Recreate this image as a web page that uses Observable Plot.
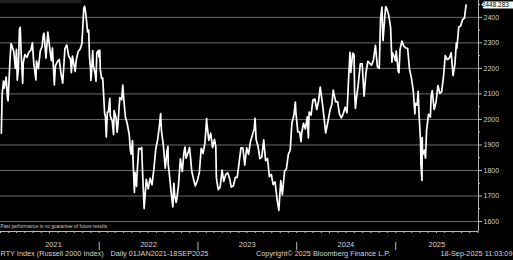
<!DOCTYPE html>
<html><head><meta charset="utf-8">
<script src="https://cdn.jsdelivr.net/npm/d3@7"></script>
<script src="https://cdn.jsdelivr.net/npm/@observablehq/plot@0.6"></script>
<style>
html,body{margin:0;padding:0;background:#000;}
#chart{position:relative;width:513px;height:260px;overflow:hidden;background:#000;}
#topbar{position:absolute;left:0;top:0;width:82px;height:3px;background:#1e1e1e;}
</style></head><body><div id="chart"><div id="topbar"></div></div>
<script>
const dates = [
"2021-01-04","2021-01-07","2021-01-12","2021-01-15","2021-01-22","2021-01-27","2021-01-29","2021-02-05","2021-02-09","2021-02-12","2021-02-19","2021-02-25","2021-03-01","2021-03-04","2021-03-08","2021-03-12","2021-03-15","2021-03-18","2021-03-24","2021-03-26","2021-04-01","2021-04-09","2021-04-16","2021-04-23","2021-04-29","2021-05-04","2021-05-12","2021-05-14","2021-05-21","2021-05-28","2021-06-04","2021-06-08","2021-06-11","2021-06-18","2021-06-25","2021-07-02","2021-07-08","2021-07-12","2021-07-19","2021-07-23","2021-07-30","2021-08-06","2021-08-13","2021-08-19","2021-08-27","2021-09-03","2021-09-10","2021-09-17","2021-09-20","2021-09-24","2021-10-04","2021-10-08","2021-10-15","2021-10-22","2021-10-29","2021-11-05","2021-11-08","2021-11-12","2021-11-19","2021-11-23","2021-11-26","2021-11-30","2021-12-01","2021-12-03","2021-12-08","2021-12-10","2021-12-17","2021-12-20","2021-12-23","2021-12-29","2021-12-31",
"2022-01-03","2022-01-05","2022-01-07","2022-01-10","2022-01-14","2022-01-18","2022-01-21","2022-01-24","2022-01-27","2022-01-31","2022-02-04","2022-02-09","2022-02-11","2022-02-18","2022-02-23","2022-02-25","2022-03-04","2022-03-08","2022-03-11","2022-03-18","2022-03-25","2022-03-29","2022-04-01","2022-04-05","2022-04-08","2022-04-14","2022-04-22","2022-04-26","2022-04-29","2022-05-04","2022-05-06","2022-05-11","2022-05-13","2022-05-19","2022-05-20","2022-05-27","2022-06-03","2022-06-07","2022-06-10","2022-06-16","2022-06-24","2022-07-01","2022-07-08","2022-07-15","2022-07-22","2022-07-29","2022-08-05","2022-08-12","2022-08-16","2022-08-19","2022-08-26","2022-09-02","2022-09-09","2022-09-12","2022-09-13","2022-09-16","2022-09-23","2022-09-30","2022-10-04","2022-10-07","2022-10-12","2022-10-14","2022-10-21","2022-10-28","2022-11-04","2022-11-10","2022-11-14","2022-11-18","2022-11-25","2022-12-01","2022-12-05","2022-12-09","2022-12-16","2022-12-22","2022-12-30",
"2023-01-06","2023-01-13","2023-01-20","2023-01-27","2023-02-02","2023-02-03","2023-02-10","2023-02-17","2023-02-24","2023-03-03","2023-03-08","2023-03-10","2023-03-13","2023-03-17","2023-03-24","2023-03-31","2023-04-06","2023-04-14","2023-04-21","2023-04-28","2023-05-04","2023-05-12","2023-05-19","2023-05-26","2023-06-02","2023-06-09","2023-06-16","2023-06-23","2023-06-30","2023-07-07","2023-07-14","2023-07-21","2023-07-28","2023-07-31","2023-08-04","2023-08-11","2023-08-18","2023-08-25","2023-09-01","2023-09-08","2023-09-15","2023-09-22","2023-09-29","2023-10-06","2023-10-13","2023-10-20","2023-10-27","2023-11-03","2023-11-09","2023-11-17","2023-11-24","2023-12-01","2023-12-08","2023-12-14","2023-12-22","2023-12-27","2023-12-29",
"2024-01-05","2024-01-12","2024-01-17","2024-01-19","2024-01-26","2024-02-02","2024-02-09","2024-02-13","2024-02-16","2024-02-23","2024-03-01","2024-03-08","2024-03-15","2024-03-22","2024-03-28","2024-04-05","2024-04-12","2024-04-17","2024-04-26","2024-05-03","2024-05-10","2024-05-15","2024-05-24","2024-05-31","2024-06-07","2024-06-14","2024-06-21","2024-06-28","2024-07-05","2024-07-11","2024-07-16","2024-07-19","2024-07-26","2024-07-31","2024-08-02","2024-08-05","2024-08-09","2024-08-16","2024-08-23","2024-08-30","2024-09-06","2024-09-13","2024-09-20","2024-09-27","2024-10-04","2024-10-11","2024-10-18","2024-10-25","2024-11-01","2024-11-06","2024-11-11","2024-11-15","2024-11-22","2024-11-25","2024-11-29","2024-12-06","2024-12-13","2024-12-18","2024-12-20","2024-12-27","2024-12-31",
"2025-01-03","2025-01-10","2025-01-13","2025-01-17","2025-01-24","2025-01-31","2025-02-07","2025-02-14","2025-02-21","2025-02-28","2025-03-07","2025-03-13","2025-03-14","2025-03-21","2025-03-25","2025-03-28","2025-04-03","2025-04-04","2025-04-08","2025-04-09","2025-04-10","2025-04-17","2025-04-21","2025-04-25","2025-05-02","2025-05-09","2025-05-12","2025-05-16","2025-05-23","2025-05-30","2025-06-06","2025-06-13","2025-06-20","2025-06-27","2025-07-03","2025-07-11","2025-07-18","2025-07-25","2025-08-01","2025-08-08","2025-08-13","2025-08-15","2025-08-22","2025-08-29","2025-09-05","2025-09-12","2025-09-18"
];
const values = [
1946,2096,2150,2123,2166,2080,2073,2233,2297,2289,2266,2200,2275,2154,2198,2352,2361,2270,2141,2221,2254,2243,2264,2271,2300,2220,2155,2229,2199,2268,2287,2330,2338,2240,2342,2280,2230,2280,2135,2210,2226,2235,2177,2142,2277,2292,2249,2236,2183,2248,2188,2233,2266,2275,2297,2437,2443,2417,2343,2350,2245,2198,2153,2175,2270,2211,2180,2150,2261,2270,2245,
2272,2194,2180,2160,2162,2080,2023,2010,1931,2028,2030,2083,2013,1994,1940,2035,2007,1950,1979,2086,2077,2135,2090,2040,2009,1986,1940,1880,1864,1917,1840,1714,1793,1738,1773,1887,1883,1890,1797,1651,1765,1728,1769,1744,1805,1885,1921,1980,2023,1955,1899,1809,1880,1895,1823,1798,1723,1657,1750,1702,1675,1683,1742,1846,1796,1870,1892,1848,1869,1890,1845,1797,1764,1740,1761,
1792,1887,1867,1911,2003,1985,1918,1946,1890,1922,1891,1773,1750,1725,1735,1802,1757,1785,1791,1768,1735,1740,1773,1773,1830,1889,1889,1821,1889,1864,1914,1938,1964,2004,1921,1895,1846,1853,1920,1838,1847,1776,1785,1745,1755,1691,1644,1760,1705,1797,1807,1863,1880,1984,2019,2068,2027,
1951,1950,1913,1944,1985,1963,2010,1928,2029,2017,2076,2080,2039,2073,2127,2062,1998,1947,1995,2036,2060,2115,2069,2070,2022,2006,2022,2048,2026,2164,2263,2184,2260,2254,2109,2043,2084,2142,2218,2218,2091,2182,2228,2220,2213,2234,2290,2208,2200,2393,2440,2309,2407,2442,2434,2409,2361,2224,2261,2245,2230,
2268,2189,2183,2275,2307,2287,2280,2279,2196,2163,2111,2022,2063,2056,2110,2024,1911,1827,1761,1929,1861,1880,1848,1956,2020,2009,2092,2113,2039,2067,2133,2102,2109,2172,2250,2234,2240,2261,2172,2218,2299,2278,2362,2366,2391,2397,2448.283
];
const yTicks = [1600,1700,1800,1900,2000,2100,2200,2300,2400];
const yMinorTicks = [1650,1750,1850,1950,2050,2150,2250,2350,2450];
const yearLabels = ["2021","2022","2023","2024","2025"];
const yearLabelDates = ["2021-07-16","2022-07-02","2023-07-02","2024-07-01","2025-06-02"];
const yearBounds = ["2022-01-01","2023-01-01","2024-01-01","2025-01-01"];
const xDomain = ["2021-01-01","2025-11-03"];
const yDomain = [1561, 2466];
const lastValueLabel = "2448.283";
const footLeft = "RTY Index (Russell 2000 Index)";
const footDaily = "Daily 01JAN2021-18SEP2025";
const footCopy = "Copyright\u00a9 2025 Bloomberg Finance L.P.";
const footTime = "18-Sep-2025 11:03:09";
const disclaimer = "Past performance is no guarantee of future results";

const parse = d3.utcParse("%Y-%m-%d");
const data = dates.map((d, i) => ({date: parse(d), value: values[i]}));
const last = data[data.length - 1];
const x0 = parse(xDomain[0]), x1 = parse(xDomain[1]);
const months = d3.utcMonths(x0, x1);
const years = yearLabels.map((l, i) => ({label: l, date: parse(yearLabelDates[i])}));
const bounds = yearBounds.map(parse);
const txt = "#d2d2d2";
const axisCol = "#b8b8b8";
const svgns = "http://www.w3.org/2000/svg";

const plot = Plot.plot({
  width: 513, height: 260,
  marginTop: 0, marginBottom: 29, marginLeft: 0, marginRight: 35,
  style: {background: "#000", color: txt, fontFamily: "'Liberation Sans', Arial, sans-serif", fontSize: "7px", overflow: "visible"},
  x: {type: "utc", domain: [x0, x1], axis: null},
  y: {domain: yDomain, axis: null},
  marks: [
    Plot.gridY(yTicks, {stroke: "#6b6b6b", strokeOpacity: 1, strokeWidth: 1}),
    Plot.ruleX([x1], {stroke: axisCol, strokeWidth: 1}),
    Plot.ruleY([yDomain[0]], {stroke: axisCol, strokeWidth: 1}),
    Plot.tickY(yMinorTicks, {y: d => d, insetLeft: 476, dx: 2, stroke: axisCol, strokeWidth: 1}),
    Plot.axisY(yTicks, {anchor: "right", tickSize: 3, tickPadding: 2, stroke: axisCol, fill: txt, fontSize: 7, tickFormat: d => String(d)}),
    Plot.axisX(months, {anchor: "bottom", tickSize: 2, tickFormat: () => "", stroke: axisCol}),
    Plot.tickX(bounds, {x: d => d, insetTop: 223, dy: 19, stroke: "#bbb", strokeWidth: 1}),
    Plot.text(years, {x: "date", text: "label", frameAnchor: "bottom", dy: 15, fill: txt, fontSize: 7.5}),
    Plot.text([disclaimer], {frameAnchor: "bottom-left", dy: -4, dx: 0, textAnchor: "start", fill: "#c8c8c8", fontSize: 4.8}),
    Plot.text([footLeft], {frameAnchor: "bottom-left", dy: 24, textAnchor: "start", fill: txt, fontSize: 7.3}),
    Plot.text([footDaily], {frameAnchor: "bottom-left", dx: 110, dy: 24, textAnchor: "start", fill: txt, fontSize: 7.3}),
    Plot.text([footCopy], {frameAnchor: "bottom-left", dx: 255.5, dy: 24, textAnchor: "start", fill: txt, fontSize: 7.3}),
    Plot.text([footTime], {frameAnchor: "bottom-right", dx: 34, dy: 24, textAnchor: "end", fill: txt, fontSize: 7.3}),
    Plot.lineY(data, {x: "date", y: "value", stroke: "#fff", strokeWidth: 1.7, strokeLinejoin: "round"}),
    Plot.text([last], {
      y: "value", frameAnchor: "right", dx: 3, text: () => lastValueLabel, textAnchor: "start",
      fill: "#000", fontSize: 6.6,
      render: (index, scales, values, dims, ctx, next) => {
        const g = next(index, scales, values, dims, ctx);
        const yy = values.y[0];
        const xr = dims.width - dims.marginRight;
        const p = document.createElementNS(svgns, "path");
        p.setAttribute("d", `M${xr},${yy} L${xr + 2},${yy - 3.5} L${dims.width},${yy - 3.5} L${dims.width},${yy + 3.5} L${xr + 2},${yy + 3.5} Z`);
        p.setAttribute("fill", "#fff");
        g.insertBefore(p, g.firstChild);
        return g;
      }
    })
  ]
});
document.getElementById("chart").appendChild(plot);
</script></body></html>
